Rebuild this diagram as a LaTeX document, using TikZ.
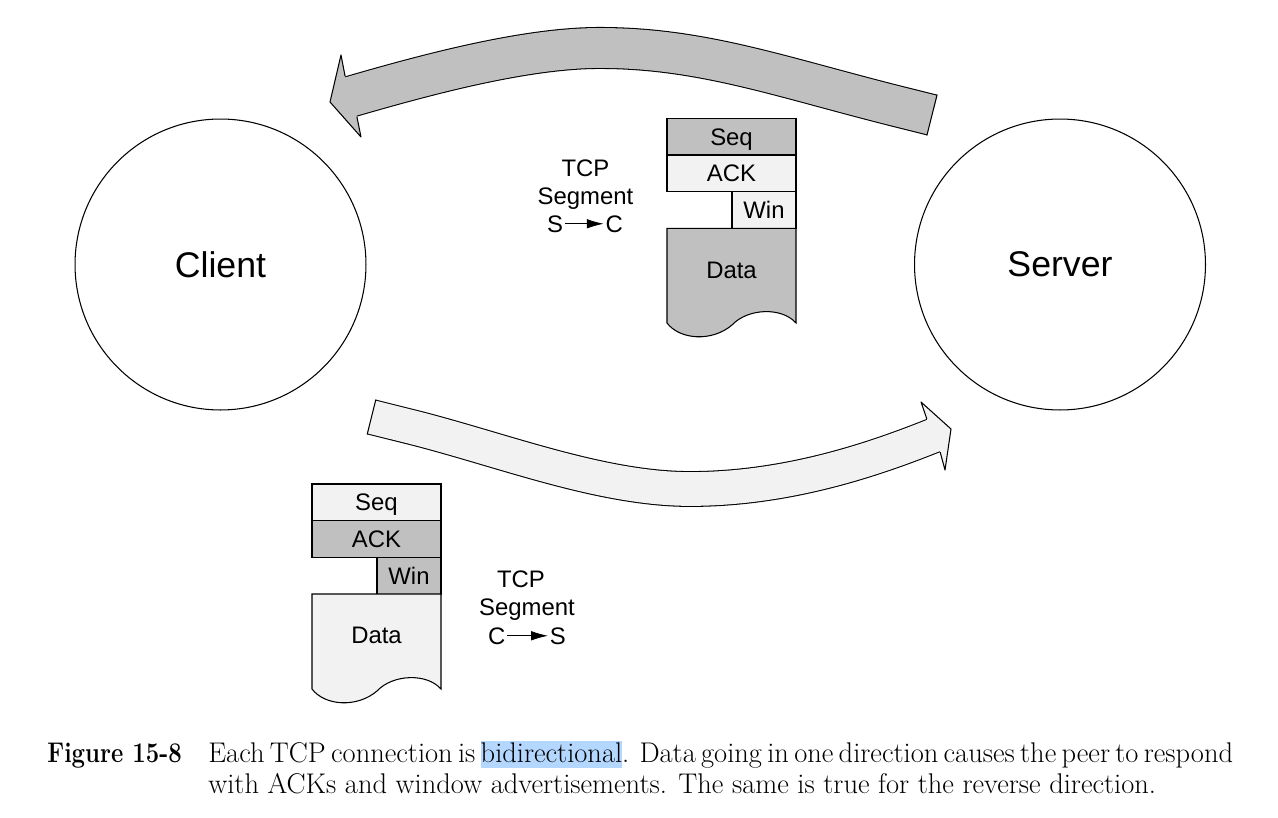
\documentclass[tikz,border=0pt]{standalone}
\usepackage{fontspec}
\usepackage{tikz}
\usetikzlibrary{arrows.meta}

\newfontfamily\diagfont{Liberation Sans}
\newcommand\capfont{\rmfamily\fontsize{16.2}{20}\selectfont}
\newcommand\selword[1]{{\setlength\fboxsep{0pt}\colorbox{selblue}{\rule[-3.4pt]{0pt}{15.6pt}#1}}}

\definecolor{segdark}{RGB}{192,192,192}
\definecolor{seglight}{RGB}{242,242,242}
\definecolor{selblue}{RGB}{179,215,254}

\begin{document}
\begin{tikzpicture}[x=0.02cm, y=-0.02cm,
	every node/.style={font=\diagfont\fontsize{13.6}{16.3}\selectfont},
	host/.style={circle, draw, line width=0.6pt, minimum size=5.82cm,
		font=\diagfont\fontsize{20.3}{24}\selectfont},
	field/.style={draw, line width=0.6pt, minimum height=0.733cm, inner sep=0pt,
		text height=9.8pt, text depth=0pt},
	tag/.style={inner sep=1pt, anchor=base},
	dir/.style={-{Latex[length=9.5pt,width=5.4pt]}, line width=0.4pt},
	band/.style={line width=0.6pt, double=#1, line cap=butt},
	tip/.style={line width=0.6pt, line join=round}]
	\useasboundingbox (0,0) rectangle (1278,818);

	% hosts
	\node[host] (client) at (220.5,264.5) {Client};
	\node[host] (server) at (1060,264.5)  {Server};

	% S -> C band (top)
	\draw[band=segdark, double distance=22.7pt] (932,115) -- (900,107)
		.. controls (780,77) and (700,47) .. (595,48)
		.. controls (520,49) and (421,76.2) .. (351,96.5) -- (346,98);
	\draw[line width=0.6pt, line cap=rect] (937,95.1) -- (927,134.9);
	\filldraw[tip, fill=segdark] (345.1,76.2) -- (341,55) -- (330,102) -- (361,137) -- (356.9,116.8);

	% C -> S band (bottom)
	\draw[band=seglight, double distance=19.2pt] (371.5,417) -- (410,426.6)
		.. controls (500,449) and (600,489) .. (690,489)
		.. controls (790,489) and (877.7,457.7) .. (933.5,435.5) -- (938.1,433.7);
	\draw[line width=0.6pt, line cap=rect] (375.7,400.1) -- (367.3,433.9);
	\filldraw[tip, fill=seglight] (926.8,418.8) -- (921,402) -- (951,429) -- (945,470) -- (940.2,452.2);

	% segment S -> C
	\node[field, fill=segdark,  minimum width=2.58cm] (seqsc) at (731.5,136.7) {Seq};
	\node[field, fill=seglight, minimum width=2.58cm] (acksc) at (731.5,173.3) {ACK};
	\node[field, fill=seglight, minimum width=1.28cm] (winsc) at (764,210)     {Win};
	\filldraw[line width=0.6pt, fill=segdark] (667,228.3) -- (667,323)
		.. controls (680,340) and (712,342) .. (732,325)
		.. controls (748,308) and (782,307) .. (796,323) -- (796,228.3) -- cycle;
	\node[field, draw=none] (datasc) at (731.5,270) {Data};

	\node[tag] (tcpsc) at (585.5,176)   {TCP};
	\node[tag] (segsc) at (585.5,204.5) {Segment};
	\node[tag, anchor=base west] (ssc) at (545,232) {S};
	\node[tag, anchor=base east] (csc) at (625,232) {C};
	\draw[dir] (ssc) -- (csc);

	% segment C -> S
	\node[field, fill=seglight, minimum width=2.58cm] (seqcs) at (376.5,502.3) {Seq};
	\node[field, fill=segdark,  minimum width=2.58cm] (ackcs) at (376.5,539)   {ACK};
	\node[field, fill=segdark,  minimum width=1.28cm] (wincs) at (409,575.7)   {Win};
	\filldraw[line width=0.6pt, fill=seglight] (312,594) -- (312,689)
		.. controls (325,706) and (357,708) .. (377,691)
		.. controls (393,674) and (427,673) .. (441,689) -- (441,594) -- cycle;
	\node[field, draw=none] (datacs) at (376.5,635) {Data};

	\node[tag] (tcpcs) at (521,587)   {TCP};
	\node[tag] (segcs) at (527,615.5) {Segment};
	\node[tag, anchor=base west] (ccs) at (486,644) {C};
	\node[tag, anchor=base east] (scs) at (568,644) {S};
	\draw[dir] (ccs) -- (scs);

	% caption
	\node[anchor=base west, inner sep=0pt, font=\capfont\bfseries] (figno) at (47,762)
		{\scalebox{0.84}[1]{Figure 15-8}};
	\node[anchor=base west, inner sep=0pt, font=\capfont] (capa) at (208,762)
		{\spaceskip=0.15em plus 1fil\relax\makebox[20.5cm][s]{Each TCP connection is \selword{bidirectional}. Data going in one direction causes the peer to respond}};
	\node[anchor=base west, inner sep=0pt, font=\capfont] (capb) at (208,793)
		{with ACKs and window advertisements. The same is true for the reverse direction.};
\end{tikzpicture}
\end{document}
